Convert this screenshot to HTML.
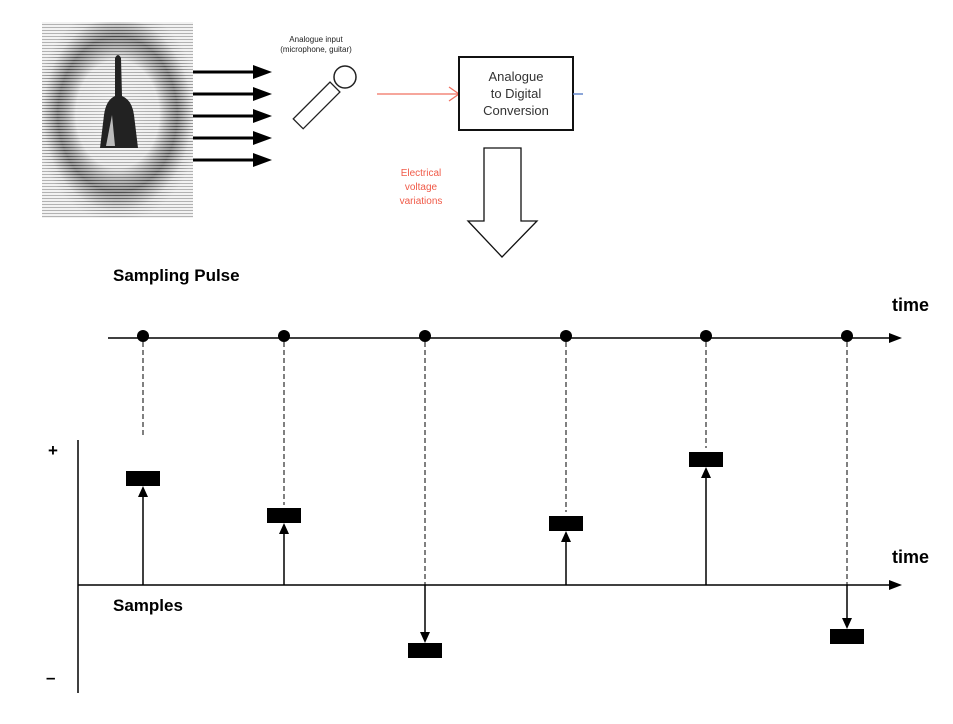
<!DOCTYPE html>
<html><head><meta charset="utf-8"><style>
body{margin:0;background:#fff;width:953px;height:719px;overflow:hidden;font-family:"Liberation Sans",sans-serif}
</style></head><body>
<svg width="953" height="719" viewBox="0 0 953 719" xmlns="http://www.w3.org/2000/svg" font-family="Liberation Sans, sans-serif">
<defs>
<pattern id="hl" width="7" height="3" patternUnits="userSpaceOnUse"><rect width="7" height="3" fill="#e4e4e4"/><rect width="7" height="1" fill="#666"/></pattern>
<radialGradient id="ring" cx="0.5" cy="0.47" r="0.55">
<stop offset="0" stop-color="#fff" stop-opacity="0.6"/>
<stop offset="0.5" stop-color="#fff" stop-opacity="0.45"/>
<stop offset="0.72" stop-color="#000" stop-opacity="0.3"/>
<stop offset="0.9" stop-color="#fff" stop-opacity="0.3"/>
<stop offset="1" stop-color="#fff" stop-opacity="0.5"/>
</radialGradient>
</defs>
<rect x="42" y="22" width="151" height="196" fill="url(#hl)"/>
<rect x="42" y="22" width="151" height="196" fill="url(#ring)"/>
<path d="M115 58 Q118 52 121 58 L122 96 Q132 100 134 115 L138 148 L100 148 L104 115 Q106 100 115 96 Z" fill="#222"/>
<path d="M106 146 L112 115 L115 146Z" fill="#bbb"/>
<g stroke="#000" stroke-width="3">
<line x1="193" y1="72" x2="255" y2="72"/><line x1="193" y1="94" x2="255" y2="94"/><line x1="193" y1="116" x2="255" y2="116"/><line x1="193" y1="138" x2="255" y2="138"/><line x1="193" y1="160" x2="255" y2="160"/>
</g>
<g fill="#000">
<polygon points="253,65 272,72 253,79"/><polygon points="253,87 272,94 253,101"/><polygon points="253,109 272,116 253,123"/><polygon points="253,131 272,138 253,145"/><polygon points="253,153 272,160 253,167"/>
</g>
<text x="316" y="42" font-size="8" text-anchor="middle" fill="#222">Analogue input</text>
<text x="316" y="52" font-size="8" text-anchor="middle" fill="#222">(microphone, guitar)</text>
<g transform="translate(318,104) rotate(-45)"><rect x="-28" y="-7" width="52" height="14" fill="#fff" stroke="#222" stroke-width="1.3"/></g>
<circle cx="345" cy="77" r="11" fill="#fff" stroke="#222" stroke-width="1.5"/>
<line x1="377" y1="94" x2="459" y2="94" stroke="#f07060" stroke-width="1.3"/>
<polyline points="449,87 459,94 449,101" fill="none" stroke="#f07060" stroke-width="1.3"/>
<rect x="459" y="57" width="114" height="73" fill="#fff" stroke="#111" stroke-width="2"/>
<text x="516" y="81" font-size="13" text-anchor="middle" fill="#333">Analogue</text>
<text x="516" y="98" font-size="13" text-anchor="middle" fill="#333">to Digital</text>
<text x="516" y="115" font-size="13" text-anchor="middle" fill="#333">Conversion</text>
<line x1="573" y1="94" x2="583" y2="94" stroke="#6688cc" stroke-width="1.5"/>
<text x="421" y="176" font-size="10" text-anchor="middle" fill="#f05a48">Electrical</text>
<text x="421" y="190" font-size="10" text-anchor="middle" fill="#f05a48">voltage</text>
<text x="421" y="204" font-size="10" text-anchor="middle" fill="#f05a48">variations</text>
<polygon points="484,148 521,148 521,221 537,221 502,257 468,221 484,221" fill="#fff" stroke="#111" stroke-width="1.3"/>
<text x="113" y="281" font-size="17" font-weight="bold">Sampling Pulse</text>
<text x="892" y="311" font-size="18" font-weight="bold">time</text>
<line x1="108" y1="338" x2="893" y2="338" stroke="#000" stroke-width="1.5"/>
<polygon points="889,333 902,338 889,343" fill="#000"/>
<g fill="#000"><circle cx="143" cy="336" r="6"/><circle cx="284" cy="336" r="6"/><circle cx="425" cy="336" r="6"/><circle cx="566" cy="336" r="6"/><circle cx="706" cy="336" r="6"/><circle cx="847" cy="336" r="6"/></g>
<g stroke="#000" stroke-width="1" stroke-dasharray="5,3">
<line x1="143" y1="342" x2="143" y2="436"/><line x1="284" y1="342" x2="284" y2="505"/><line x1="425" y1="342" x2="425" y2="585"/><line x1="566" y1="342" x2="566" y2="512"/><line x1="706" y1="342" x2="706" y2="448"/><line x1="847" y1="342" x2="847" y2="585"/>
</g>
<text x="48" y="456" font-size="17" font-weight="bold">+</text>
<text x="46" y="683" font-size="17" font-weight="bold">–</text>
<line x1="78" y1="440" x2="78" y2="693" stroke="#000" stroke-width="1.5"/>
<line x1="78" y1="585" x2="893" y2="585" stroke="#000" stroke-width="1.5"/>
<polygon points="889,580 902,585 889,590" fill="#000"/>
<text x="892" y="563" font-size="18" font-weight="bold">time</text>
<text x="113" y="611" font-size="17" font-weight="bold">Samples</text>
<g fill="#000">
<rect x="126" y="471" width="34" height="15"/><rect x="267" y="508" width="34" height="15"/><rect x="408" y="643" width="34" height="15"/><rect x="549" y="516" width="34" height="15"/><rect x="689" y="452" width="34" height="15"/><rect x="830" y="629" width="34" height="15"/>
</g>
<g stroke="#000" stroke-width="1.5">
<line x1="143" y1="585" x2="143" y2="495"/><line x1="284" y1="585" x2="284" y2="532"/><line x1="425" y1="585" x2="425" y2="634"/><line x1="566" y1="585" x2="566" y2="540"/><line x1="706" y1="585" x2="706" y2="476"/><line x1="847" y1="585" x2="847" y2="620"/>
</g>
<g fill="#000">
<polygon points="138,497 143,486 148,497"/><polygon points="279,534 284,523 289,534"/><polygon points="420,632 425,643 430,632"/><polygon points="561,542 566,531 571,542"/><polygon points="701,478 706,467 711,478"/><polygon points="842,618 847,629 852,618"/>
</g>
</svg>
</body></html>
